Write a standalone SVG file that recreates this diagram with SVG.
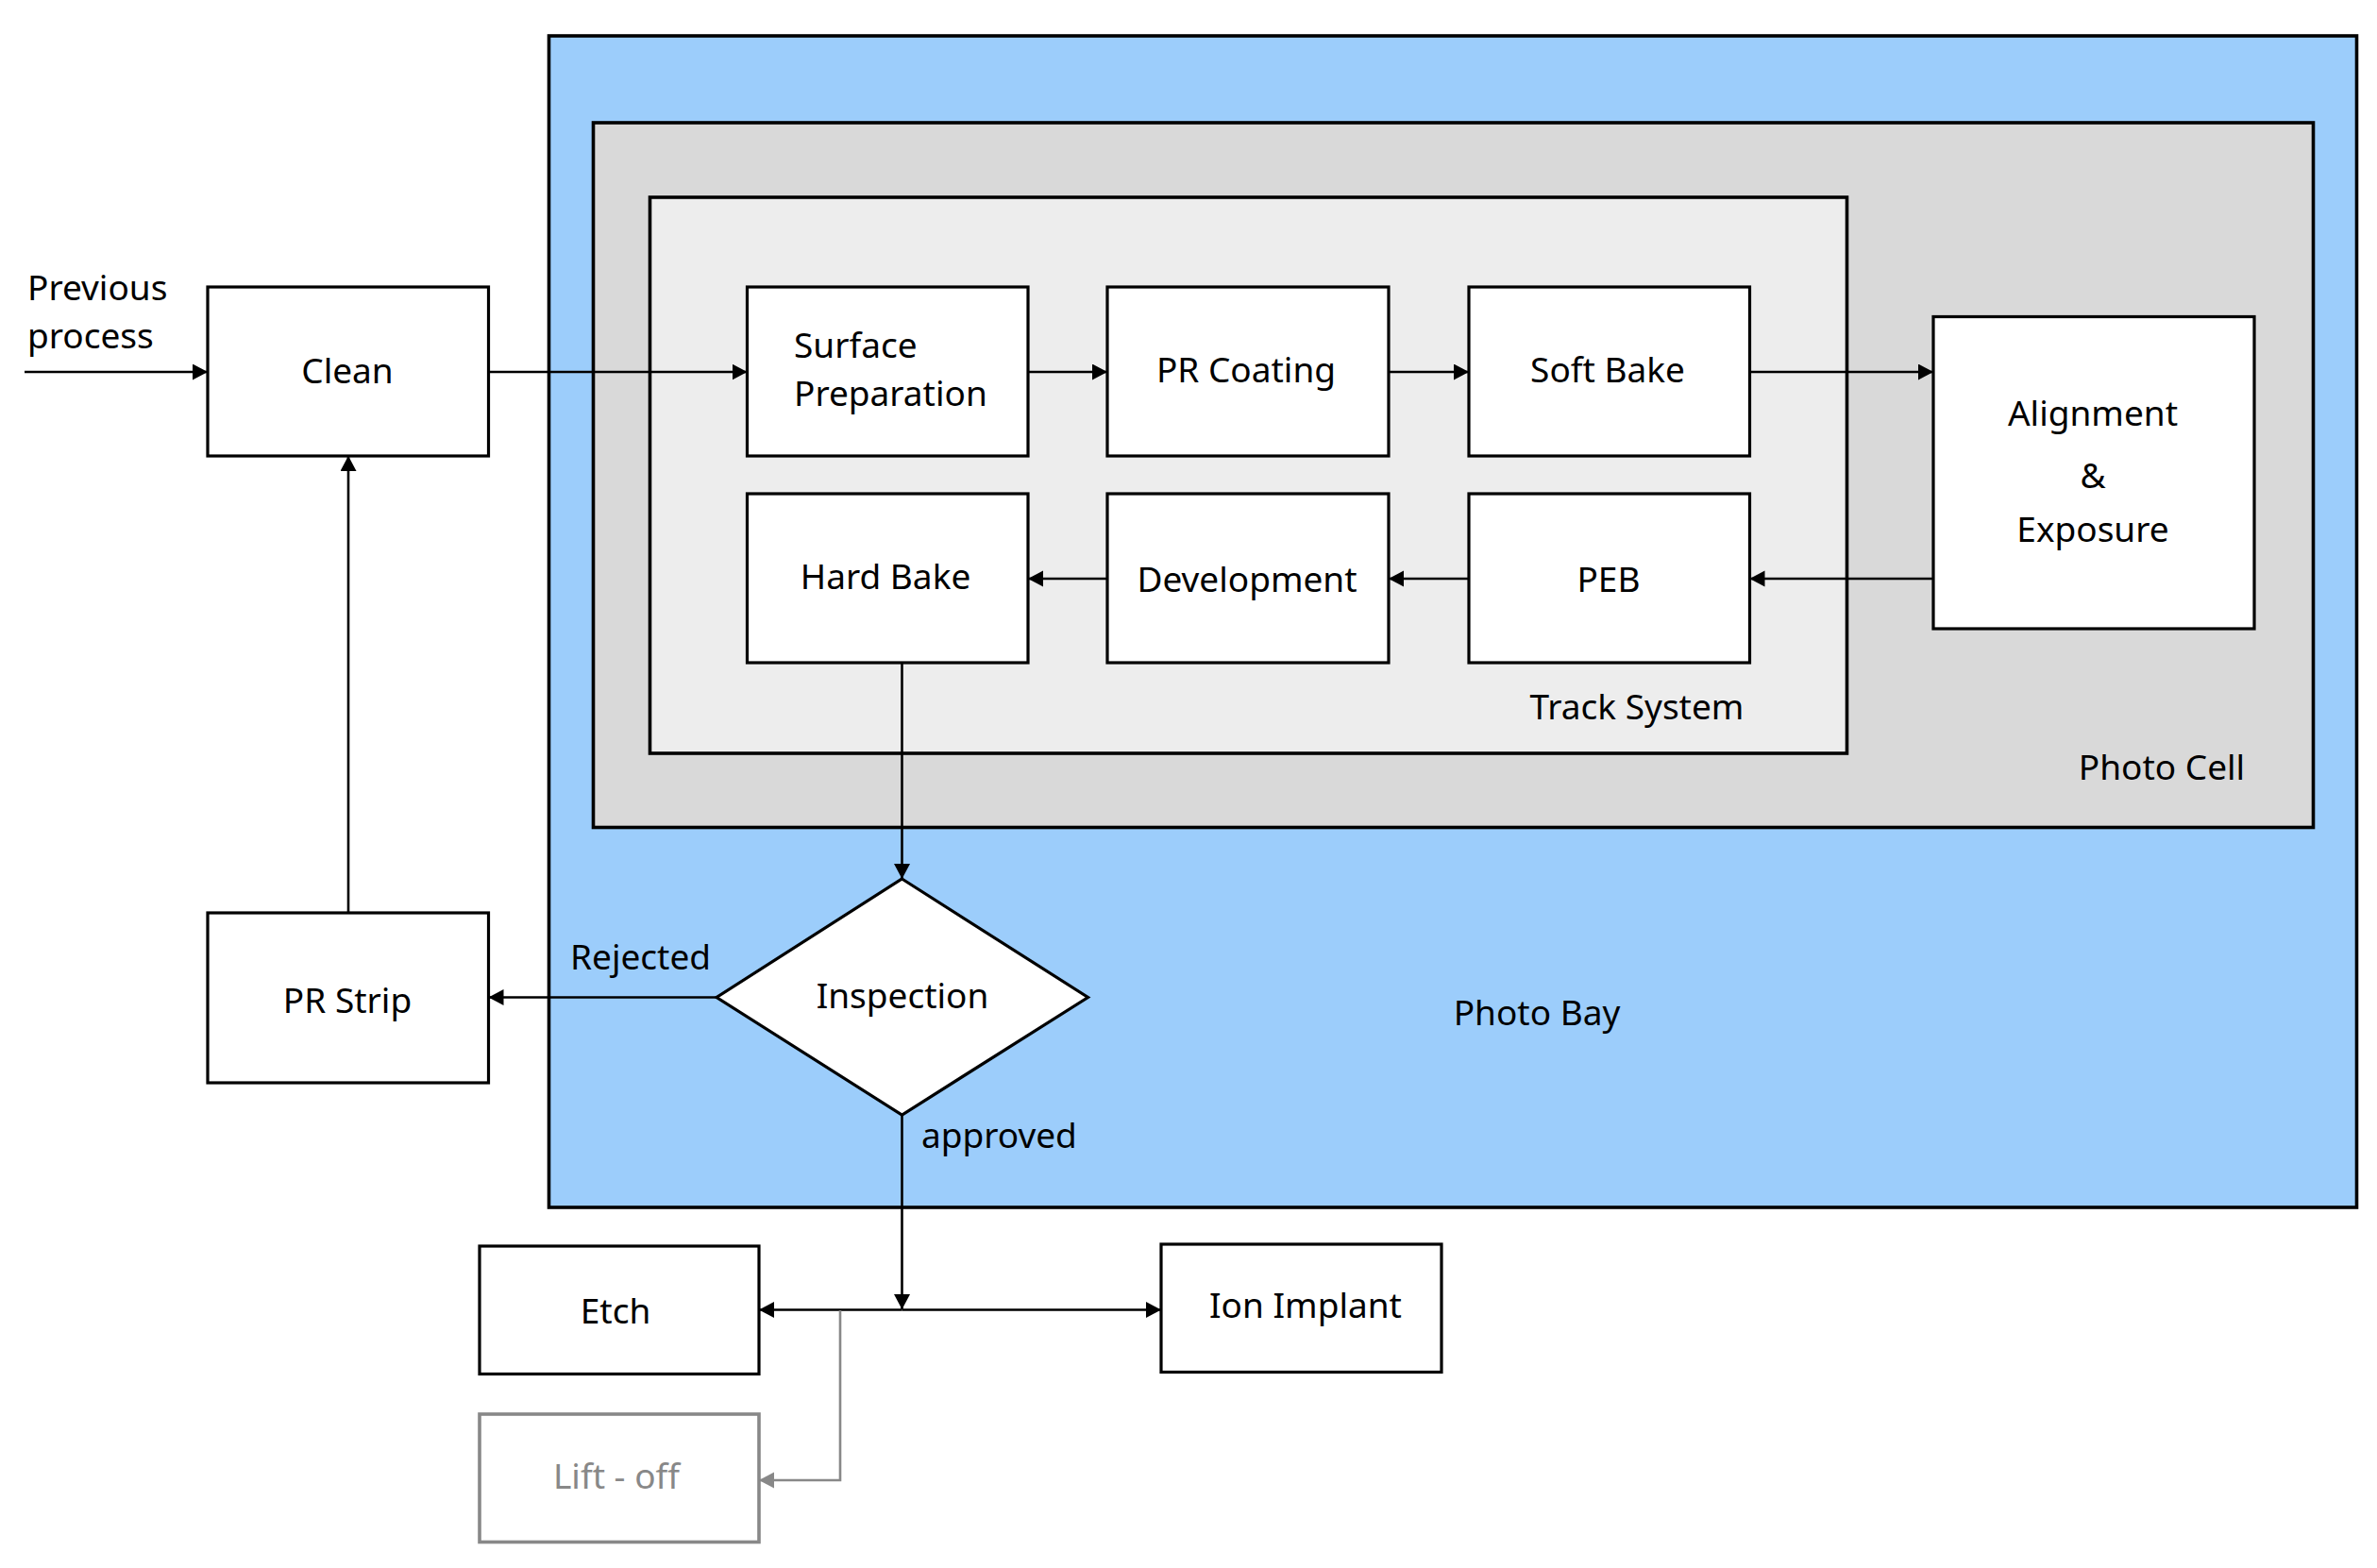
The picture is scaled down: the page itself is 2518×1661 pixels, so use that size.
<svg xmlns="http://www.w3.org/2000/svg" width="2518" height="1661" viewBox="0 0 2518 1661">
<style>
text{font-family:"Noto Sans","Open Sans","DejaVu Sans",sans-serif;font-size:37px;fill:#000}
.c{text-anchor:middle}
.box{fill:#fff;stroke:#000;stroke-width:3.2}
.ln{fill:none;stroke:#000;stroke-width:2.6}
.gray{fill:none;stroke:#888;stroke-width:2.6}
.gbox{fill:#fff;stroke:#888;stroke-width:3.6}
</style>
<defs>
<marker id="a" markerUnits="userSpaceOnUse" markerWidth="17" markerHeight="18" refX="16" refY="8.5" orient="auto"><path d="M0,0 L16,8.5 L0,17 z" fill="#000"/></marker>
<marker id="g" markerUnits="userSpaceOnUse" markerWidth="17" markerHeight="18" refX="16" refY="8.5" orient="auto"><path d="M0,0 L16,8.5 L0,17 z" fill="#888"/></marker>
</defs>
<rect width="2518" height="1661" fill="#fff"/>
<g id="photo-bay">
<rect x="581.5" y="38" width="1915" height="1241" fill="#9ccdfb" stroke="#000" stroke-width="3.6"/>
<text class="c" x="1628" y="1086">Photo Bay</text>
</g>
<g id="photo-cell">
<rect x="628.5" y="130" width="1822" height="746.5" fill="#d9d9d9" stroke="#000" stroke-width="3.6"/>
<text class="c" x="2290" y="826">Photo Cell</text>
</g>
<g id="track-system">
<rect x="688.5" y="209" width="1268" height="589" fill="#ededed" stroke="#000" stroke-width="3.6"/>
<text class="c" x="1734" y="762">Track System</text>
</g>
<g id="prev"><text x="29" y="318">Previous</text><text x="29" y="369">process</text></g>
<g id="clean"><rect class="box" x="220" y="304" width="297.5" height="179"/><text class="c" x="368" y="406">Clean</text></g>
<g id="surface"><rect class="box" x="791.5" y="304" width="297.5" height="179"/><text x="841" y="379">Surface</text><text x="841" y="430">Preparation</text></g>
<g id="prcoat"><rect class="box" x="1173" y="304" width="298" height="179"/><text class="c" x="1320" y="405">PR Coating</text></g>
<g id="softbake"><rect class="box" x="1556" y="304" width="297.5" height="179"/><text class="c" x="1703" y="405">Soft Bake</text></g>
<g id="align"><rect class="box" x="2048" y="335.5" width="340" height="330.5"/><text class="c" x="2217" y="451">Alignment</text><text class="c" x="2217" y="517">&amp;</text><text class="c" x="2217" y="574">Exposure</text></g>
<g id="hardbake"><rect class="box" x="791.5" y="523" width="297.5" height="179"/><text class="c" x="938" y="624">Hard Bake</text></g>
<g id="develop"><rect class="box" x="1173" y="523" width="298" height="179"/><text class="c" x="1321" y="627">Development</text></g>
<g id="peb"><rect class="box" x="1556" y="523" width="297.5" height="179"/><text class="c" x="1704" y="627">PEB</text></g>
<g id="inspection"><path class="box" d="M955.5,931 L1152.5,1056.5 L955.5,1181 L759,1056.5 Z"/><text class="c" x="956" y="1068">Inspection</text></g>
<g id="prstrip"><rect class="box" x="220" y="967" width="297.5" height="180"/><text class="c" x="368" y="1073">PR Strip</text></g>
<g id="etch"><rect class="box" x="508" y="1320" width="296" height="135.5"/><text class="c" x="652" y="1402">Etch</text></g>
<g id="ion"><rect class="box" x="1230" y="1318" width="297" height="135.5"/><text class="c" x="1383" y="1396">Ion Implant</text></g>
<g id="liftoff"><rect class="gbox" x="508" y="1498" width="296" height="135.5"/><text class="c" x="653" y="1577" style="fill:#888">Lift - off</text></g>
<g id="connectors">
<path class="ln" d="M26,394 H220" marker-end="url(#a)"/>
<path class="ln" d="M517.5,394 H791.5" marker-end="url(#a)"/>
<path class="ln" d="M1089,394 H1173" marker-end="url(#a)"/>
<path class="ln" d="M1471,394 H1556" marker-end="url(#a)"/>
<path class="ln" d="M1853.5,394 H2048" marker-end="url(#a)"/>
<path class="ln" d="M2048,613 H1853.5" marker-end="url(#a)"/>
<path class="ln" d="M1556,613 H1471" marker-end="url(#a)"/>
<path class="ln" d="M1173,613 H1089" marker-end="url(#a)"/>
<path class="ln" d="M955.5,702 V931" marker-end="url(#a)"/>
<path class="ln" d="M759,1056.5 H517.5" marker-end="url(#a)"/>
<path class="ln" d="M369,967 V483" marker-end="url(#a)"/>
<path class="ln" d="M955.5,1181 V1387" marker-end="url(#a)"/>
<path class="ln" d="M955.5,1387.5 H804" marker-end="url(#a)"/>
<path class="ln" d="M955.5,1387.5 H1230" marker-end="url(#a)"/>
<path class="gray" d="M890,1388 V1568 H804" marker-end="url(#g)"/>
<text x="604" y="1027">Rejected</text>
<text x="976" y="1216">approved</text>
</g>
</svg>
